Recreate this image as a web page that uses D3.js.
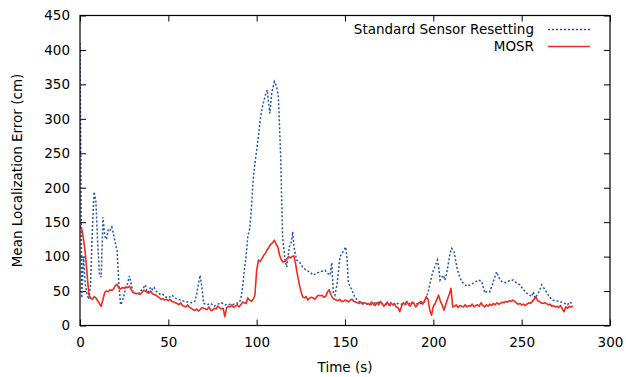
<!DOCTYPE html>
<html>
<head>
<meta charset="utf-8">
<script src="https://cdn.jsdelivr.net/npm/d3@7"></script>
<style>
  body { margin: 0; background: #fff; }
  text { font-family: 'DejaVu Sans', sans-serif; font-size: 13.5px; fill: #000; }
</style>
</head>
<body>
<svg id="chart" width="626" height="377"></svg>
<script>
// Standard Sensor Resetting (time s, error cm)
const blueT = [0, 1, 2, 3, 4, 5, 6, 7, 8, 9, 10, 11, 12, 13, 14, 15, 16, 17, 18, 19, 20, 21, 22, 23, 24, 25, 26, 27, 28, 29,
  30, 31, 32, 33, 34, 35, 36, 37, 38, 39, 40, 41, 42, 43, 44, 45, 46, 47, 48, 50, 52, 53, 55, 57, 59, 61, 63, 65, 66, 67,
  68, 69, 70, 72, 74, 76, 78, 80, 82, 84, 86, 88, 90, 91, 92, 93, 94, 95, 96, 97, 98, 99, 100, 101, 102, 103, 104, 105,
  106, 106.6, 107.5, 108.5, 110, 111.3, 112.3, 112.8, 113.6, 114.2, 114.7, 116, 117, 118.5, 119.5, 120.4, 121.1, 122.6,
  124.5, 126, 128, 130, 132, 134, 136, 138.7, 140, 141.5, 142.5, 143.4, 144.3, 145.5, 147.2, 149, 150.4, 151.2, 151.9,
  153.8, 155.7, 158, 160, 164, 168, 172, 176, 180, 184, 188, 192, 195, 196.2, 197, 198, 199, 200, 201, 202.3, 203, 203.8,
  204.7, 205.7, 206.6, 207.5, 208.5, 209.5, 210.4, 211.7, 212.6, 213.6, 215, 216, 218.9, 220.8, 223, 225.5, 227.4, 229.2,
  230.5, 232, 233.5, 235, 235.8, 237, 238.7, 241, 243, 245.3, 247, 249, 251, 252.8, 254, 255.7, 256.6, 257.5, 259, 260.3,
  261.3, 263.2, 265.1, 267, 269, 271.7, 273, 274.5, 276, 277, 278.3];
const blueV = [410, 40, 100, 60, 45, 38, 60, 140, 194, 180, 120, 75, 70, 157, 130, 125, 140, 138, 143, 132, 120, 108, 60, 30, 35, 45, 55, 62, 72, 60,
  48, 47, 46, 45, 48, 52, 55, 59, 48, 50, 56, 52, 55, 50, 48, 46, 44, 45, 42, 40, 44, 42, 38, 37, 35, 34, 33, 35, 45, 60,
  73, 55, 32, 30, 32, 28, 31, 33, 30, 31, 30, 32, 33, 38, 55, 80, 100, 130, 140, 170, 211, 235, 255, 275, 298, 315, 325, 335,
  342, 327, 308, 337, 354, 347, 332, 298, 245, 178, 129, 95, 85, 114, 120, 136, 114, 95,
  91, 85, 80, 78, 73, 76, 78, 80, 76, 73, 91, 47, 44, 60, 100, 108, 114, 95, 62,
  52, 40, 35, 33, 30, 34, 31, 29, 32, 30, 33, 31, 34, 42, 48, 60, 71, 80, 86, 95, 85, 66,
  70, 73, 66, 75, 90, 105, 112, 107, 95, 81, 70, 64, 57, 59, 62, 66, 64, 47,
  50, 49, 60, 72, 78, 70, 64, 62, 65, 66, 62, 59, 52, 47, 45, 42, 49, 40, 45, 52,
  59, 52, 44, 37, 36, 35, 33, 32, 30, 34, 32];

// MOSR, one sample per second from t = 0
const redV = [145, 140, 125, 105, 75, 45, 40, 38, 42, 40, 36, 32, 28, 38, 48, 50, 49, 52, 51, 53,
  58, 60, 54, 53, 55, 54, 56, 55, 57, 52, 48, 47, 46, 47, 45, 48, 51, 50, 48, 47,
  50, 46, 45, 44, 42, 40, 38, 39, 37, 38, 36, 38, 35, 34, 33, 32, 30, 33, 29, 28,
  27, 30, 26, 25, 23, 22, 24, 21, 23, 26, 25, 24, 23, 27, 22, 22, 25, 24, 28, 26,
  24, 25, 13, 26, 28, 27, 30, 26, 28, 30, 27, 30, 34, 33, 32, 40, 37, 35, 38, 44,
  80, 95, 93, 97, 102, 105, 110, 114, 118, 120, 124, 118, 114, 102, 95, 92, 93, 96, 100, 98,
  100, 101, 90, 75, 61, 50, 42, 40, 42, 37, 40, 41, 40, 38, 42, 44, 43, 44, 41, 42,
  48, 52, 45, 40, 38, 37, 36, 38, 35, 35, 37, 36, 34, 37, 38, 35, 34, 33, 32, 34,
  31, 33, 32, 32, 30, 34, 31, 29, 33, 30, 35, 32, 28, 31, 34, 29, 33, 30, 32, 27,
  26, 20, 28, 33, 31, 35, 30, 28, 34, 32, 27, 30, 33, 35, 31, 36, 42, 38, 22, 15,
  28, 32, 38, 44, 35, 30, 22, 30, 38, 45, 54, 27, 28, 30, 26, 29, 28, 27, 30, 27,
  29, 28, 31, 27, 29, 30, 28, 33, 29, 27, 30, 28, 31, 29, 32, 30, 33, 31, 32, 34,
  33, 35, 34, 36, 35, 37, 35, 33, 31, 32, 30, 31, 29, 31, 33, 32, 35, 38, 42, 36,
  35, 33, 32, 33, 32, 30, 31, 28, 29, 27, 28, 26, 29, 24, 20, 27, 25, 28, 27, 28];

const xTicks = [0, 50, 100, 150, 200, 250, 300];
const yTicks = [0, 50, 100, 150, 200, 250, 300, 350, 400, 450];
const seriesNames = ['Standard Sensor Resetting', 'MOSR'];

const svg = d3.select('#chart');
const margin = { top: 15.5, right: 16, bottom: 51.5, left: 80 };
const width = +svg.attr('width') - margin.left - margin.right;
const height = +svg.attr('height') - margin.top - margin.bottom;
const g = svg.append('g').attr('transform', `translate(${margin.left},${margin.top})`);

const x = d3.scaleLinear().domain([0, 300]).range([0, width]);
const y = d3.scaleLinear().domain([0, 450]).range([height, 0]);

const blueColor = '#2255b0';
const redColor = '#f02a1e';

// axes with inward ticks, mirrored on top and right
const tick = 6;
g.append('g')
  .attr('transform', `translate(0,${height})`)
  .call(d3.axisBottom(x).tickValues(xTicks).tickSize(-tick).tickPadding(tick + 6))
  .call(a => a.select('.domain').remove());
g.append('g')
  .call(d3.axisTop(x).tickValues(xTicks).tickSize(-tick).tickFormat(''))
  .call(a => a.select('.domain').remove());
g.append('g')
  .call(d3.axisLeft(y).tickValues(yTicks).tickSize(-tick).tickPadding(tick + 4))
  .call(a => a.select('.domain').remove());
g.append('g')
  .attr('transform', `translate(${width},0)`)
  .call(d3.axisRight(y).tickValues(yTicks).tickSize(-tick).tickFormat(''))
  .call(a => a.select('.domain').remove());

g.selectAll('.tick line').attr('stroke', '#000').attr('stroke-width', 1);
g.selectAll('.tick text').style('font-size', '13.5px').style('font-family', 'DejaVu Sans, sans-serif');

const blueData = blueT.map((t, i) => ({ t, v: blueV[i] }));
const redData = redV.map((v, i) => ({ t: i, v }));

const line = d3.line()
  .x(d => x(d.t))
  .y(d => y(d.v));

const clip = svg.append('defs').append('clipPath').attr('id', 'plotclip');
clip.append('rect').attr('width', width).attr('height', height);

const plot = g.append('g').attr('clip-path', 'url(#plotclip)');

plot.append('path')
  .datum(blueData)
  .attr('fill', 'none')
  .attr('stroke', blueColor)
  .attr('stroke-width', 1.5)
  .attr('stroke-dasharray', '2,2')
  .attr('d', line);

plot.append('path')
  .datum(redData)
  .attr('fill', 'none')
  .attr('stroke', redColor)
  .attr('stroke-width', 1.6)
  .attr('stroke-linejoin', 'round')
  .attr('d', line);

// frame
g.append('rect')
  .attr('width', width)
  .attr('height', height)
  .attr('fill', 'none')
  .attr('stroke', '#000')
  .attr('stroke-width', 1.2);

// legend
const legend = g.append('g').attr('transform', `translate(${width},0)`);
[blueColor, redColor].forEach((c, i) => {
  const ly = 14 + i * 17;
  legend.append('line')
    .attr('x1', -62).attr('x2', -20)
    .attr('y1', ly).attr('y2', ly)
    .attr('stroke', c)
    .attr('stroke-width', 1.5)
    .attr('stroke-dasharray', i === 0 ? '2,2' : null);
  legend.append('text')
    .attr('x', -76)
    .attr('y', ly)
    .attr('dy', '0.35em')
    .attr('text-anchor', 'end')
    .text(seriesNames[i]);
});

// axis titles
svg.append('text')
  .attr('x', margin.left + width / 2)
  .attr('y', 372)
  .attr('text-anchor', 'middle')
  .text('Time (s)');

svg.append('text')
  .attr('transform', `translate(22,${margin.top + height / 2}) rotate(-90)`)
  .attr('text-anchor', 'middle')
  .text('Mean Localization Error (cm)');
</script>
</body>
</html>
